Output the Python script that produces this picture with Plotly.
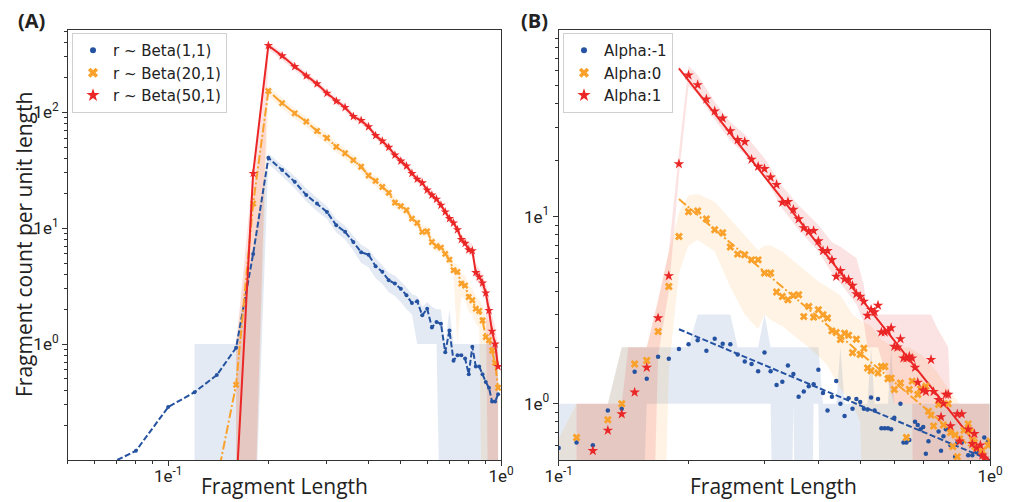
import plotly.graph_objects as go

# ---------------- colours ----------------
BLUE = "#2553a1"
ORANGE = "#f9a12b"
RED = "#eb2626"
BLUE_F = "rgba(37,83,161,0.12)"
ORANGE_F = "rgba(249,161,43,0.13)"
RED_F = "rgba(235,35,35,0.13)"

# ---------------- Panel A data ----------------
a_blue_x = [0.06, 0.08, 0.10, 0.12, 0.14, 0.16, 0.18, 0.20, 0.22, 0.24, 0.26, 0.28, 0.30, 0.32, 0.34,
            0.36, 0.38, 0.40, 0.42, 0.44, 0.46, 0.48, 0.50, 0.52, 0.54, 0.56, 0.58, 0.60, 0.62, 0.64,
            0.66, 0.68, 0.70, 0.72, 0.74, 0.76, 0.78, 0.80, 0.82, 0.84, 0.86, 0.88, 0.90, 0.92, 0.94,
            0.96, 0.98]
a_blue_y = [0.08, 0.12, 0.286, 0.385, 0.54, 0.93, 6.0, 40.5, 31.7, 25.1, 19.3, 16.3, 13.8, 10.6, 9.3,
            7.6, 6.2, 5.9, 4.7, 4.2, 3.55, 3.33, 3.0, 2.64, 2.26, 2.34, 1.77, 2.02, 1.39, 1.55,
            1.50, 0.85, 1.31, 0.72, 0.80, 0.80, 0.75, 0.55, 0.95, 0.64, 0.64, 0.55, 0.47, 0.42, 0.32,
            0.32, 0.37]
a_blue_band_x = [0.12, 0.14, 0.16, 0.18, 0.20, 0.22, 0.24, 0.26, 0.28, 0.30, 0.32, 0.34, 0.36, 0.38,
                 0.40, 0.42, 0.44, 0.46, 0.48, 0.50, 0.52, 0.54, 0.56, 0.58, 0.60, 0.62, 0.64, 0.66,
                 0.68, 0.70, 0.72, 0.74, 0.76, 0.78, 0.80, 0.82, 0.84, 0.86, 0.88, 0.90, 0.92, 0.94,
                 0.96, 0.98]
a_blue_lo = [0.01, 0.01, 0.01, 0.01, 36, 28, 22, 17, 14, 12, 9.2, 8, 6.4, 5.0,
             4.6, 3.7, 3.3, 2.8, 2.6, 2.3, 2.0, 1.8, 1.0, 1.0, 1.0, 1.0, 1.0, 0.01,
             0.01, 0.01, 0.01, 0.01, 0.01, 0.01, 0.01, 0.01, 0.01, 0.01, 0.01, 0.01, 0.01, 0.01,
             0.01, 0.01]
a_blue_hi = [1.0, 1.0, 1.0, 6.6, 44, 35, 28, 22, 18.5, 15.5, 12, 10.5, 8.6, 7.2,
             6.6, 5.5, 4.8, 4.1, 3.9, 3.5, 3.1, 2.7, 2.6, 2.1, 2.3, 2.1, 2.0, 2.0,
             1.0, 2.0, 1.0, 1.0, 1.0, 1.0, 1.0, 1.0, 1.0, 1.0, 1.0, 1.0, 1.0, 1.0,
             1.0, 1.0]

a_orange_x = [0.14, 0.16, 0.18, 0.20, 0.22, 0.24, 0.26, 0.28, 0.30, 0.32, 0.34, 0.36, 0.38, 0.40,
              0.42, 0.44, 0.46, 0.48, 0.50, 0.52, 0.54, 0.56, 0.58, 0.60, 0.62, 0.64, 0.66, 0.68,
              0.70, 0.72, 0.74, 0.76, 0.78, 0.80, 0.82, 0.84, 0.86, 0.88, 0.90, 0.92, 0.94, 0.96,
              0.98]
a_orange_y = [0.066, 0.445, 16.3, 153, 120, 98, 83, 69, 60, 50.4, 44.3, 38.7, 33.9, 28.5,
              25.6, 22.7, 20.2, 16.6, 15.5, 14.3, 12.1, 11.1, 9.3, 9.4, 7.6, 7.0, 6.8, 6.0,
              5.36, 4.34, 4.2, 3.33, 3.2, 2.55, 2.39, 2.02, 1.93, 1.6, 1.15, 1.08, 0.88, 0.69,
              0.42]
a_orange_band_x = a_orange_x[1:]
a_orange_lo = [0.01, 0.01, 138, 108, 88, 75, 62, 54, 45, 40, 35, 30.5, 25.5, 23, 20.4, 18.2, 14.9,
               14, 12.9, 10.9, 10, 8.4, 8.5, 6.8, 6.3, 6.1, 5.4, 4.8, 3.9, 1.0, 2.6, 2.4, 1.9,
               1.8, 1.5, 1.4, 0.01, 0.01, 0.01, 0.01, 0.01, 0.01]
a_orange_hi = [1.0, 18, 168, 132, 108, 91, 76, 66, 55, 49, 43, 37, 31, 28, 25, 22, 18.5,
               17, 15.7, 13.3, 12.2, 10.5, 10.5, 8.5, 7.8, 7.5, 6.7, 6.0, 5.0, 4.8, 4.0, 3.9, 3.2,
               3.0, 2.6, 2.4, 2.2, 1.7, 1.6, 1.3, 1.0, 0.8]

a_red_x = a_orange_x[1:]
a_red_y = [0.053, 29.7, 377, 307, 248, 206, 176, 146, 125, 110, 92, 85, 75, 63, 56.5, 49.8,
           42.7, 37.9, 34.4, 29.7, 26.5, 24.6, 21.3, 19.3, 17.8, 15.8, 13.8, 12.1, 11.1, 9.7,
           8.0, 7.4, 6.5, 6.4, 4.14, 3.8, 3.37, 2.76, 1.95, 1.29, 1.0, 0.64]
a_red_lo = [0.01, 0.01, 350, 285, 231, 192, 164, 136, 116, 102, 86, 79, 70, 59, 52.5, 46.3,
            39.7, 35.2, 32, 27.6, 24.6, 22.9, 19.8, 17.9, 16.6, 14.7, 12.8, 11.3, 10.3, 9.0,
            7.4, 6.9, 6.0, 5.7, 3.6, 3.3, 2.9, 2.4, 0.01, 0.01, 0.01, 0.01]
a_red_hi = [1.0, 32, 403, 328, 265, 220, 188, 156, 134, 118, 98, 91, 80, 67, 60.5, 53.3,
            45.7, 40.6, 36.8, 31.8, 28.4, 26.3, 22.8, 20.7, 19, 16.9, 14.8, 12.9, 11.9, 10.4,
            8.8, 8.3, 7.5, 7.4, 5.0, 4.5, 4.0, 3.3, 2.6, 1.8, 1.4, 0.95]

a_names = ["r ~ Beta(1,1)", "r ~ Beta(20,1)", "r ~ Beta(50,1)"]

# ---------------- Panel B data ----------------
b_blue_x = [0.10, 0.11, 0.12, 0.13, 0.14, 0.15, 0.16, 0.17, 0.18, 0.19, 0.20, 0.21, 0.22, 0.23,
            0.24, 0.25, 0.26, 0.27, 0.28, 0.29, 0.30, 0.31, 0.32, 0.33, 0.34, 0.35, 0.36, 0.37,
            0.38, 0.39, 0.40, 0.41, 0.42, 0.43, 0.44, 0.45, 0.46, 0.47, 0.48, 0.49, 0.50, 0.51,
            0.52, 0.53, 0.54, 0.55, 0.56, 0.57, 0.58, 0.59, 0.60, 0.62, 0.63, 0.64, 0.65, 0.67,
            0.68, 0.69, 0.70, 0.71, 0.72, 0.76, 0.77, 0.78, 0.79, 0.81, 0.83, 0.84, 0.86, 0.89,
            0.91, 0.93, 0.96, 0.97, 0.99]
b_blue_y = [0.58, 0.62, 0.60, 0.92, 0.94, 1.48, 1.36, 1.78, 1.74, 1.96, 2.08, 2.18, 1.92, 2.22,
            2.09, 2.08, 1.83, 1.68, 1.63, 1.49, 1.88, 1.49, 1.26, 1.31, 1.60, 1.44, 1.09, 1.16,
            1.24, 1.27, 1.52, 1.14, 0.92, 1.09, 1.32, 1.00, 0.86, 1.07, 0.94, 1.06, 1.02, 0.94,
            0.93, 1.08, 0.92, 1.06, 0.74, 0.74, 0.74, 0.73, 0.84, 1.00, 0.62, 0.62, 0.64, 0.80,
            0.77, 0.73, 0.75, 0.54, 0.63, 0.71, 0.56, 0.67, 0.73, 0.60, 0.52, 0.62, 0.62, 0.53,
            0.53, 0.55, 0.53, 0.66, 0.63]

b_orange_x = [0.11, 0.13, 0.14, 0.15, 0.16, 0.17, 0.18, 0.19, 0.20, 0.21, 0.22, 0.23, 0.24, 0.25,
              0.26, 0.27, 0.28, 0.29, 0.30, 0.31, 0.32, 0.33, 0.34, 0.35, 0.36, 0.37, 0.38, 0.39,
              0.40, 0.41, 0.42, 0.43, 0.44, 0.45, 0.46, 0.47, 0.48, 0.49, 0.50, 0.51, 0.52, 0.53,
              0.55, 0.56, 0.57, 0.58, 0.59, 0.60, 0.62, 0.64, 0.65, 0.66, 0.68, 0.69, 0.71, 0.72,
              0.73, 0.74, 0.76, 0.78, 0.80, 0.81, 0.82, 0.83, 0.84, 0.85, 0.87, 0.89, 0.90, 0.91,
              0.92, 0.94, 0.96, 0.99, 1.00]
b_orange_y = [0.66, 0.82, 1.00, 1.63, 1.70, 2.43, 4.23, 7.82, 10.6, 10.7, 9.7, 8.5, 8.2, 6.87,
              6.3, 6.25, 5.87, 5.87, 4.99, 4.99, 3.95, 3.74, 3.59, 3.79, 3.82, 2.92, 3.31, 2.90,
              3.18, 2.99, 2.87, 2.45, 2.40, 2.20, 2.38, 2.32, 1.87, 2.21, 1.83, 1.98, 1.55, 1.50,
              1.46, 1.58, 1.58, 1.36, 1.37, 1.19, 1.29, 0.66, 1.19, 1.32, 1.12, 1.20, 1.24, 0.91,
              0.87, 0.76, 0.99, 0.77, 1.00, 0.70, 0.59, 0.68, 0.52, 0.65, 0.72, 0.78, 0.71, 0.64,
              0.62, 0.58, 0.56, 0.60, 0.63]

b_red_x = [0.12, 0.13, 0.14, 0.15, 0.16, 0.17, 0.18, 0.19, 0.20, 0.21, 0.22, 0.23, 0.24, 0.25,
           0.26, 0.27, 0.28, 0.29, 0.30, 0.31, 0.32, 0.33, 0.34, 0.35, 0.36, 0.37, 0.38, 0.39,
           0.40, 0.41, 0.42, 0.43, 0.44, 0.45, 0.46, 0.47, 0.48, 0.49, 0.50, 0.51, 0.52, 0.53,
           0.54, 0.55, 0.56, 0.57, 0.58, 0.59, 0.60, 0.61, 0.62, 0.63, 0.64, 0.65, 0.66, 0.67,
           0.68, 0.70, 0.71, 0.73, 0.74, 0.76, 0.77, 0.78, 0.79, 0.80, 0.81, 0.84, 0.85, 0.86,
           0.89, 0.91, 0.92, 0.93, 0.95, 0.96, 0.97]
b_red_y = [0.56, 0.72, 0.88, 1.15, 1.56, 2.87, 4.82, 19.1, 57, 50.5, 42.4, 36.6, 33.5, 28.7,
           25.7, 25.1, 20.2, 18.5, 18.0, 16.2, 14.8, 11.9, 12.0, 10.9, 9.7, 8.7, 8.3, 8.4,
           7.4, 6.56, 6.56, 5.87, 4.78, 5.13, 4.63, 4.6, 4.28, 3.86, 3.74, 3.52, 2.96, 3.18,
           3.09, 3.35, 2.41, 2.41, 2.45, 2.54, 2.02, 2.00, 2.22, 1.75, 1.75, 1.79, 1.75, 1.56,
           1.30, 1.18, 1.16, 1.72, 1.16, 1.05, 0.85, 1.00, 1.12, 1.12, 0.76, 0.88, 0.63, 0.88,
           0.73, 0.61, 0.69, 0.58, 0.60, 0.53, 0.51]

# fitted lines (end points)
b_fit_x = [0.19, 1.0]
b_blue_fit = [2.5, 0.5]
b_orange_fit = [12.4, 0.48]
b_red_fit = [62, 0.49]

# bands
b_blue_band_x = [0.10, 0.13, 0.14, 0.15, 0.16, 0.20, 0.21, 0.25, 0.26, 0.29, 0.30, 0.31, 0.32, 0.34,
                 0.35, 0.36, 0.38, 0.39, 0.40, 0.41, 0.44, 0.45, 0.46, 0.52, 0.53, 0.54, 0.58, 0.59,
                 0.60, 1.00]
b_blue_hi = [1.0, 1.0, 2.0, 2.0, 2.0, 2.0, 3.0, 3.0, 2.0, 2.0, 3.0, 2.0, 2.0, 2.0,
             2.0, 2.0, 2.0, 2.0, 2.0, 1.0, 1.0, 2.0, 1.0, 1.0, 2.0, 1.0, 1.0, 2.0,
             1.0, 1.0]
b_blue_lo = [0.01, 0.01, 0.01, 0.01, 1.0, 1.0, 1.0, 1.0, 1.0, 1.0, 1.0, 1.0, 0.01, 0.01,
             1.0, 0.01, 0.01, 1.0, 1.0, 0.01, 0.01, 0.01, 0.01, 0.01, 0.01, 0.01, 0.01, 0.01,
             0.01, 0.01]

b_orange_band_x = [0.10, 0.11, 0.13, 0.14, 0.16, 0.17, 0.18, 0.19, 0.20, 0.21, 0.23, 0.25, 0.27,
                   0.29, 0.30, 0.31, 0.33, 0.36, 0.38, 0.40, 0.42, 0.45, 0.48, 0.50, 0.53, 0.56,
                   0.60, 0.62, 0.65, 0.70, 0.75, 0.80, 0.85, 1.00]
b_orange_hi = [0.65, 1.0, 1.0, 2.0, 2.0, 3.5, 6.5, 10.5, 13, 13.2, 12, 9.7, 8.0,
               6.6, 7.0, 7.0, 6.5, 5.5, 5.0, 4.5, 4.2, 3.8, 3.0, 2.8, 2.6, 2.2,
               2.0, 2.0, 2.0, 1.8, 1.5, 1.2, 1.0, 1.0]
b_orange_lo = [0.01, 0.01, 0.01, 0.01, 0.01, 0.01, 1.5, 5.0, 7.0, 7.5, 6.5, 4.2, 3.0,
               2.5, 3.0, 2.8, 2.6, 2.2, 2.0, 1.8, 1.6, 1.2, 1.0, 0.8, 0.01, 0.01,
               0.01, 0.01, 0.01, 0.01, 0.01, 0.01, 0.01, 0.01]

b_red_band_x = [0.11, 0.14, 0.145, 0.16, 0.17, 0.18, 0.19, 0.20, 0.21, 0.23, 0.25, 0.27, 0.30,
                0.33, 0.36, 0.40, 0.43, 0.45, 0.49, 0.51, 0.52, 0.55, 0.60, 0.66, 0.67, 0.73,
                0.75, 0.80, 0.81, 0.995]
b_red_hi = [1.0, 1.0, 2.0, 2.0, 3.6, 6.5, 22, 64, 57, 41, 32, 27.5, 20.5,
            14.5, 11.5, 9.0, 7.3, 6.9, 6.0, 4.3, 3.0, 3.0, 3.0, 3.0, 3.0, 3.0,
            2.6, 2.0, 1.0, 1.0]
b_red_lo = [0.01, 0.01, 0.01, 0.01, 1.8, 4.0, 16.5, 50, 45, 33, 25.5, 21.5, 16.5,
            11, 8.5, 6.5, 5.0, 4.4, 3.4, 2.7, 2.0, 2.0, 1.0, 1.0, 0.01, 0.01,
            0.01, 0.01, 0.01, 0.01]

b_names = ["Alpha:-1", "Alpha:0", "Alpha:1"]

# ---------------- ticks ----------------
a_xminor = [0.05, 0.06, 0.07, 0.08, 0.09, 0.2, 0.3, 0.4, 0.5, 0.6, 0.7, 0.8, 0.9]
a_yminor = [0.2, 0.3, 0.4, 0.5, 0.6, 0.7, 0.8, 0.9, 2, 3, 4, 5, 6, 7, 8, 9,
            20, 30, 40, 50, 60, 70, 80, 90, 200, 300, 400, 500]
b_xminor = [0.2, 0.3, 0.4, 0.5, 0.6, 0.7, 0.8, 0.9]
b_yminor = [0.6, 0.7, 0.8, 0.9, 2, 3, 4, 5, 6, 7, 8, 9, 20, 30, 40, 50, 60, 70, 80, 90]

# the page body has an 8px margin: the figure starts at (8, 8) in the window
OFF = 8
W, H = 1020 - OFF, 502 - OFF


def fx(X):
    return (X - OFF) / W


def fy(Y):
    return 1 - (Y - OFF) / H


fig = go.Figure()


def band(x, lo, hi, fill, xa, ya):
    xs = list(x) + list(x)[::-1]
    ys = list(hi) + list(lo)[::-1]
    fig.add_trace(go.Scatter(x=xs, y=ys, mode="lines", fill="toself", fillcolor=fill,
                             line=dict(width=0), hoverinfo="skip", showlegend=False,
                             xaxis=xa, yaxis=ya))


DASH = "6px,2.5px"
DASHDOT = "9px,2.5px,2px,2.5px"

# Panel A bands
band(a_blue_band_x, a_blue_lo, a_blue_hi, BLUE_F, "x", "y")
band(a_orange_band_x, a_orange_lo, a_orange_hi, ORANGE_F, "x", "y")
band(a_red_x, a_red_lo, a_red_hi, RED_F, "x", "y")

# Panel A lines
fig.add_trace(go.Scatter(x=a_blue_x, y=a_blue_y, mode="lines+markers",
                         line=dict(color=BLUE, width=2, dash=DASH),
                         marker=dict(color=BLUE, size=4, symbol="circle"),
                         showlegend=False, xaxis="x", yaxis="y"))
fig.add_trace(go.Scatter(x=a_orange_x, y=a_orange_y, mode="lines+markers",
                         line=dict(color=ORANGE, width=2, dash=DASHDOT),
                         marker=dict(color=ORANGE, size=6, symbol="x"),
                         showlegend=False, xaxis="x", yaxis="y"))
fig.add_trace(go.Scatter(x=a_red_x, y=a_red_y, mode="lines+markers",
                         line=dict(color=RED, width=2),
                         marker=dict(color=RED, size=7, symbol="star"),
                         showlegend=False, xaxis="x", yaxis="y"))

# Panel B bands
band(b_blue_band_x, b_blue_lo, b_blue_hi, BLUE_F, "x2", "y2")
band(b_orange_band_x, b_orange_lo, b_orange_hi, ORANGE_F, "x2", "y2")
band(b_red_band_x, b_red_lo, b_red_hi, RED_F, "x2", "y2")

# Panel B fits
fig.add_trace(go.Scatter(x=b_fit_x, y=b_blue_fit, mode="lines", showlegend=False,
                         line=dict(color=BLUE, width=2, dash=DASH), xaxis="x2", yaxis="y2"))
fig.add_trace(go.Scatter(x=b_fit_x, y=b_orange_fit, mode="lines", showlegend=False,
                         line=dict(color=ORANGE, width=2, dash=DASHDOT), xaxis="x2", yaxis="y2"))
fig.add_trace(go.Scatter(x=b_fit_x, y=b_red_fit, mode="lines", showlegend=False,
                         line=dict(color=RED, width=2), xaxis="x2", yaxis="y2"))

# Panel B scatter
fig.add_trace(go.Scatter(x=b_blue_x, y=b_blue_y, mode="markers", showlegend=False,
                         marker=dict(color=BLUE, size=4.5, symbol="circle"), xaxis="x2", yaxis="y2"))
fig.add_trace(go.Scatter(x=b_orange_x, y=b_orange_y, mode="markers", showlegend=False,
                         marker=dict(color=ORANGE, size=7, symbol="x"), xaxis="x2", yaxis="y2"))
fig.add_trace(go.Scatter(x=b_red_x, y=b_red_y, mode="markers", showlegend=False,
                         marker=dict(color=RED, size=8, symbol="star"), xaxis="x2", yaxis="y2"))

# legend entries (marker only, like the reference)
for names, leg, xa, ya in [(a_names, "legend", "x", "y"), (b_names, "legend2", "x2", "y2")]:
    for nm, col, sym, sz in zip(names, [BLUE, ORANGE, RED], ["circle", "x", "star"], [6, 9, 10]):
        fig.add_trace(go.Scatter(x=[None], y=[None], mode="markers", name=nm,
                                 marker=dict(color=col, size=sz, symbol=sym),
                                 xaxis=xa, yaxis=ya, legend=leg))

TICKFONT = dict(family="Liberation Sans Narrow, Roboto, sans-serif", size=17, color="#222")
AX = dict(type="log", showline=True, linecolor="#333", linewidth=1, mirror=True,
          ticks="outside", ticklen=5, tickcolor="#333", showgrid=False, zeroline=False,
          tickfont=TICKFONT, automargin=False, tickmode="array")


def minor(vals):
    return dict(tickmode="array", tickvals=vals, ticks="outside", ticklen=3, tickcolor="#333",
                showgrid=False)


LEGFONT = dict(family="DejaVu Sans", size=15, color="#222")
ydom = [fy(460), fy(30)]
fig.update_layout(
    width=W, height=H, margin=dict(l=0, r=0, t=0, b=0),
    paper_bgcolor="white", plot_bgcolor="white",
    xaxis=dict(AX, domain=[fx(68), fx(501)], range=[-1.301, 0], anchor="y",
               tickvals=[0.1, 1], ticktext=["1e<sup>-1</sup>", "1e<sup>0</sup>"],
               minor=minor(a_xminor), ticklabelstandoff=-4),
    yaxis=dict(AX, domain=ydom, range=[-1.0, 2.71], anchor="x",
               tickvals=[1, 10, 100], ticktext=["1e<sup>0</sup>", "1e<sup>1</sup>", "1e<sup>2</sup>"],
               minor=minor(a_yminor)),
    xaxis2=dict(AX, domain=[fx(558.7), fx(990)], range=[-1, 0], anchor="y2",
                tickvals=[0.1, 1], ticktext=["1e<sup>-1</sup>", "1e<sup>0</sup>"],
                minor=minor(b_xminor), ticklabelstandoff=-4),
    yaxis2=dict(AX, domain=ydom, range=[-0.301, 1.997], anchor="x2",
                tickvals=[1, 10], ticktext=["1e<sup>0</sup>", "1e<sup>1</sup>"],
                minor=minor(b_yminor)),
    legend=dict(x=fx(72), y=fy(33), xanchor="left", yanchor="top",
                bgcolor="rgba(255,255,255,0.85)", bordercolor="#d0d0d0", borderwidth=1,
                font=LEGFONT, tracegroupgap=0),
    legend2=dict(x=fx(563), y=fy(33), xanchor="left", yanchor="top",
                 bgcolor="rgba(255,255,255,0.85)", bordercolor="#d0d0d0", borderwidth=1,
                 font=LEGFONT, tracegroupgap=0),
    showlegend=True,
)

TITLEFONT = dict(family="Open Sans", size=21, color="#222")
fig.add_annotation(text="Fragment Length", x=fx(284.5), y=fy(486), xref="paper", yref="paper",
                   showarrow=False, font=TITLEFONT, xanchor="center", yanchor="middle")
fig.add_annotation(text="Fragment Length", x=fx(773), y=fy(486), xref="paper", yref="paper",
                   showarrow=False, font=TITLEFONT, xanchor="center", yanchor="middle")
fig.add_annotation(text="Fragment count per unit length", x=fx(24), y=fy(245), xref="paper",
                   yref="paper", showarrow=False, font=TITLEFONT, textangle=-90,
                   xanchor="center", yanchor="middle")
fig.add_annotation(text="<b>(A)</b>", x=fx(31), y=fy(20), xref="paper", yref="paper",
                   showarrow=False, font=dict(family="Open Sans", size=20, color="#222"),
                   xanchor="center", yanchor="middle")
fig.add_annotation(text="<b>(B)</b>", x=fx(534), y=fy(20), xref="paper", yref="paper",
                   showarrow=False, font=dict(family="Open Sans", size=20, color="#222"),
                   xanchor="center", yanchor="middle")

fig.write_html("out.html")
